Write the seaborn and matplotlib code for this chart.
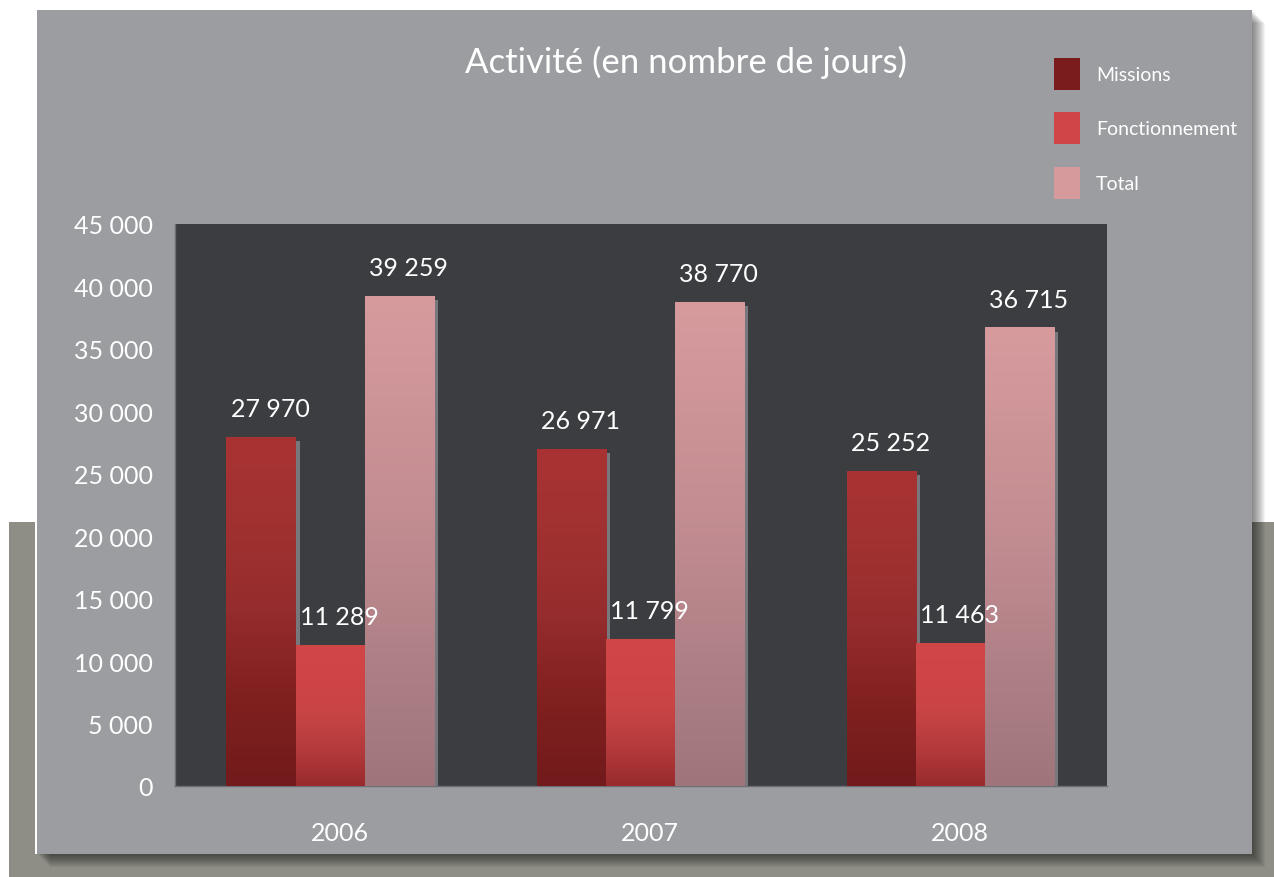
# Activité (en nombre de jours) - bar chart recreation

import numpy as np
import pandas as pd
import matplotlib.pyplot as plt
import seaborn as sns
from matplotlib.patches import Rectangle, Patch
from matplotlib.colors import LinearSegmentedColormap
from matplotlib.transforms import ScaledTranslation

# -------------------------------
# DATA
# -------------------------------

years = ["2006", "2007", "2008"]
series = ["Missions", "Fonctionnement", "Total"]
missions = [27970, 26971, 25252]
fonctionnement = [11289, 11799, 11463]
total = [39259, 38770, 36715]
yticks = [0, 5000, 10000, 15000, 20000, 25000, 30000, 35000, 40000, 45000]

df = pd.DataFrame({
    "annee": years * 3,
    "serie": [s for s in series for _ in years],
    "jours": missions + fonctionnement + total,
})

# -------------------------------
# STYLE
# -------------------------------

legend_colors = ["#7a1c1e", "#d04545", "#d69a9c"]
# gradient stops bottom -> top
gradients = [
    ["#721a1c", "#80201f", "#952c2d", "#a13131", "#a93333"],
    ["#992b2d", "#b33a3b", "#c84444", "#cf4545", "#d14646"],
    ["#9f757b", "#ad8086", "#c08b90", "#cc9396", "#d79b9e"],
]

panel_col = "#9b9da1"
plot_col = "#3c3d41"
band_col = "#8e8e86"
font = ["Lato", "DejaVu Sans"]

sns.set_theme(style="white")
plt.rcParams["font.family"] = font

fig = plt.figure(figsize=(12.74, 8.78), dpi=100)
fig.patch.set_facecolor("white")

W, H = 1274, 878


def px_rect(x0, y0, x1, y1, **kw):
    # rectangle in pixel coords (top-left origin)
    r = Rectangle((x0 / W, 1 - y1 / H), (x1 - x0) / W, (y1 - y0) / H,
                  transform=fig.transFigure, **kw)
    fig.patches.append(r)


# background band and panel with soft shadow
px_rect(9, 523, W, H, facecolor=band_col, edgecolor="none", zorder=0)
for i in range(14):
    px_rect(37 + i, 11 + i, 1252 + i, 855 + i, facecolor="black",
            edgecolor="none", alpha=0.045, zorder=0.5)
px_rect(35, 11, 37, 855, facecolor="white", edgecolor="none", zorder=0.8)
px_rect(37, 11, 1252, 855, facecolor=panel_col, edgecolor="none", zorder=1)

# -------------------------------
# BAR CHART
# -------------------------------

ax = fig.add_axes([175 / W, 1 - 787 / H, (1107 - 175) / W, (787 - 225) / H])
ax.set_zorder(2)
ax.set_facecolor(plot_col)

sns.barplot(
    data=df, x="annee", y="jours", hue="serie",
    hue_order=series, palette=legend_colors,
    width=0.668, gap=0, legend=False, ax=ax,
)

shadow_off = ScaledTranslation(3 / 72, -3 / 72, fig.dpi_scale_trans)

for i, cont in enumerate(ax.containers):
    cmap = LinearSegmentedColormap.from_list("g%d" % i, gradients[i])
    for bar in cont:
        x0, w, h = bar.get_x(), bar.get_width(), bar.get_height()
        bar.set_edgecolor("none")
        bar.set_linewidth(0)
        bar.set_zorder(3)
        # bar shadow
        sh = Rectangle((x0, 0), w, h, facecolor="#77787d", edgecolor="none",
                       transform=ax.transData + shadow_off, zorder=1)
        ax.add_patch(sh)
        # gradient fill
        img = ax.imshow(np.linspace(0, 1, 256).reshape(-1, 1), cmap=cmap,
                        origin="lower", extent=(x0, x0 + w, 0, h),
                        aspect="auto", zorder=4, interpolation="bicubic")
        img.set_clip_path(bar)
        # value label
        label = f"{int(h):,}".replace(",", " ")
        ax.annotate(label, (x0 + w / 2, h), xytext=(6.5, 15),
                    textcoords="offset points", ha="center", va="baseline",
                    color="white", fontsize=18, zorder=6)

ax.set_xlim(-0.5, 2.506)
ax.set_ylim(0, 45000)
ax.set_yticks(yticks)
ax.set_yticklabels([f"{v:,}".replace(",", " ") for v in yticks])
ax.set_xlabel("")
ax.set_ylabel("")
ax.tick_params(axis="y", length=0, pad=16, labelsize=18, labelcolor="white")
ax.tick_params(axis="x", length=0, pad=25, labelsize=18, labelcolor="white")

# year labels sit slightly right of the group centre
label_shift = ScaledTranslation(7 / 72, 0, fig.dpi_scale_trans)
for lbl in ax.get_xticklabels():
    lbl.set_transform(lbl.get_transform() + label_shift)

for side in ["top", "right"]:
    ax.spines[side].set_visible(False)
for side in ["left", "bottom"]:
    ax.spines[side].set_color("#6e6f74")
    ax.spines[side].set_linewidth(1)

# -------------------------------
# TITLE AND LEGEND
# -------------------------------

fig.text(686 / W, 1 - 62 / H, "Activité (en nombre de jours)",
         ha="center", va="center", color="white", fontsize=25, zorder=5)

handles = [Patch(facecolor=c, edgecolor="none") for c in legend_colors]
leg = fig.legend(
    handles, series, loc="upper left",
    bbox_to_anchor=(1054 / W, 1 - 59 / H),
    frameon=False, fontsize=14, labelcolor="white",
    handlelength=1.35, handleheight=2.15, handletextpad=0.8,
    labelspacing=1.15, borderpad=0, borderaxespad=0,
)
leg.set_zorder(5)

plt.savefig("out.png", dpi=100)
plt.close()
